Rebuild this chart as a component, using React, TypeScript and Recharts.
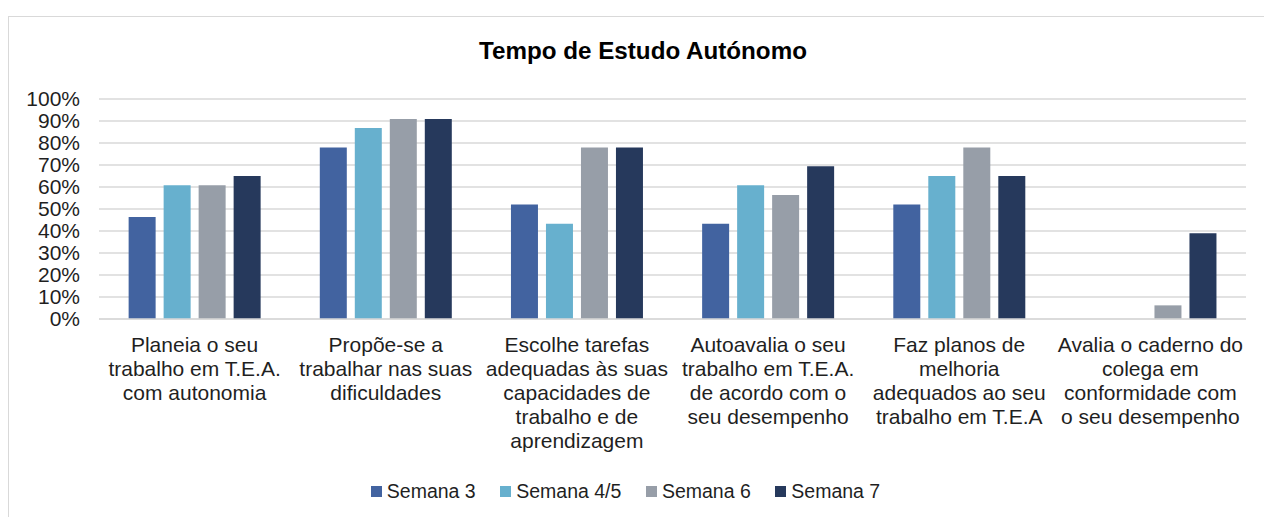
import React from "react";
import { BarChart, Bar, XAxis, YAxis, CartesianGrid, Legend } from "recharts";

const categories = [
  "Planeia o seu trabalho em T.E.A. com autonomia",
  "Propõe-se a trabalhar nas suas dificuldades",
  "Escolhe tarefas adequadas às suas capacidades de trabalho e de aprendizagem",
  "Autoavalia o seu trabalho em T.E.A. de acordo com o seu desempenho",
  "Faz planos de melhoria adequados ao seu trabalho em T.E.A",
  "Avalia o caderno do colega em conformidade com o seu desempenho",
];

const categoryLines = [
  ["Planeia o seu", "trabalho em T.E.A.", "com autonomia"],
  ["Propõe-se a", "trabalhar nas suas", "dificuldades"],
  ["Escolhe tarefas", "adequadas às suas", "capacidades de", "trabalho e de", "aprendizagem"],
  ["Autoavalia o seu", "trabalho em T.E.A.", "de acordo com o", "seu desempenho"],
  ["Faz planos de", "melhoria", "adequados ao seu", "trabalho em T.E.A"],
  ["Avalia o caderno do", "colega em", "conformidade com", "o seu desempenho"],
];

const semana3 = [46.4, 78.0, 52.1, 43.3, 52.1, 0];
const semana45 = [60.8, 86.8, 43.3, 60.8, 65.0, 0];
const semana6 = [60.8, 90.9, 78.0, 56.4, 78.0, 6.2];
const semana7 = [65.0, 90.9, 78.0, 69.4, 65.0, 39.0];

const seriesNames = ["Semana 3", "Semana 4/5", "Semana 6", "Semana 7"];
const seriesKeys = ["s3", "s45", "s6", "s7"];
const seriesColors = ["#4263A0", "#67B0CE", "#979EA8", "#26395C"];

const yTicks = [0, 10, 20, 30, 40, 50, 60, 70, 80, 90, 100];

const title = "Tempo de Estudo Autónomo";

const data = categories.map((c, i) => ({
  name: c,
  idx: i,
  s3: semana3[i],
  s45: semana45[i],
  s6: semana6[i],
  s7: semana7[i],
}));

const FONT = "'Liberation Sans', Arial, sans-serif";

const CategoryTick = (props: any) => {
  const { x, y, payload } = props;
  const lines = categoryLines[payload.index] || [String(payload.value)];
  return (
    <text x={x} y={y} textAnchor="middle" fontSize={21} fill="#1f1f1f" fontFamily={FONT}>
      {lines.map((l, i) => (
        <tspan key={i} x={x} dy={i === 0 ? 25 : 24}>
          {l}
        </tspan>
      ))}
    </text>
  );
};

const LegendContent = () => (
  <div
    style={{
      height: 38,
      display: "flex",
      justifyContent: "center",
      alignItems: "flex-start",
      fontFamily: FONT,
      fontSize: 19.5,
      lineHeight: "24px",
      color: "#1f1f1f",
      paddingRight: 13,
    }}
  >
    {seriesNames.map((n, i) => (
      <div key={n} style={{ display: "flex", alignItems: "center", marginRight: i < 3 ? 24.5 : 0 }}>
        <span
          style={{
            display: "inline-block",
            width: 11,
            height: 11,
            background: seriesColors[i],
            marginRight: 5,
          }}
        />
        <span>{n}</span>
      </div>
    ))}
  </div>
);

export default function App() {
  return (
    <div style={{ position: "fixed", left: 0, top: 0, width: 1264, height: 517, background: "#fff", overflow: "hidden" }}>
      <div
        style={{
          position: "absolute",
          left: 8,
          top: 16,
          width: 1280,
          height: 530,
          border: "1px solid #d9d9d9",
          boxSizing: "border-box",
        }}
      />
      <div
        style={{
          position: "absolute",
          left: 0,
          top: 39,
          width: 1286,
          textAlign: "center",
          fontFamily: FONT,
          fontWeight: "bold",
          fontSize: 24.2,
          lineHeight: "24px",
          color: "#000",
        }}
      >
        {title}
      </div>
      <div style={{ position: "absolute", left: 0, top: 0 }}>
        <BarChart
          width={1264}
          height={517}
          data={data}
          margin={{ top: 99, right: 18, bottom: 0, left: 0 }}
          barGap={8}
          barCategoryGap="15.5%"
        >
          <CartesianGrid vertical={false} stroke="#d9d9d9" strokeWidth={1.5} />
          <XAxis
            dataKey="name"
            height={160}
            tick={<CategoryTick />}
            tickLine={false}
            tickSize={6}
            tickMargin={2}
            axisLine={{ stroke: "#d9d9d9", strokeWidth: 1.5 }}
            interval={0}
          />
          <YAxis
            width={99}
            domain={[0, 100]}
            ticks={yTicks}
            tickFormatter={(v: number) => `${v}%`}
            tickLine={false}
            axisLine={false}
            tickSize={6}
            tickMargin={13}
            tick={{ fontSize: 21, fill: "#1f1f1f", fontFamily: FONT }}
            interval={0}
          />
          <Legend
            verticalAlign="bottom"
            content={<LegendContent />}
            wrapperStyle={{ left: 0, width: 1264 }}
          />
          {seriesKeys.map((k, i) => (
            <Bar key={k} dataKey={k} name={seriesNames[i]} fill={seriesColors[i]} isAnimationActive={false} />
          ))}
        </BarChart>
      </div>
    </div>
  );
}
